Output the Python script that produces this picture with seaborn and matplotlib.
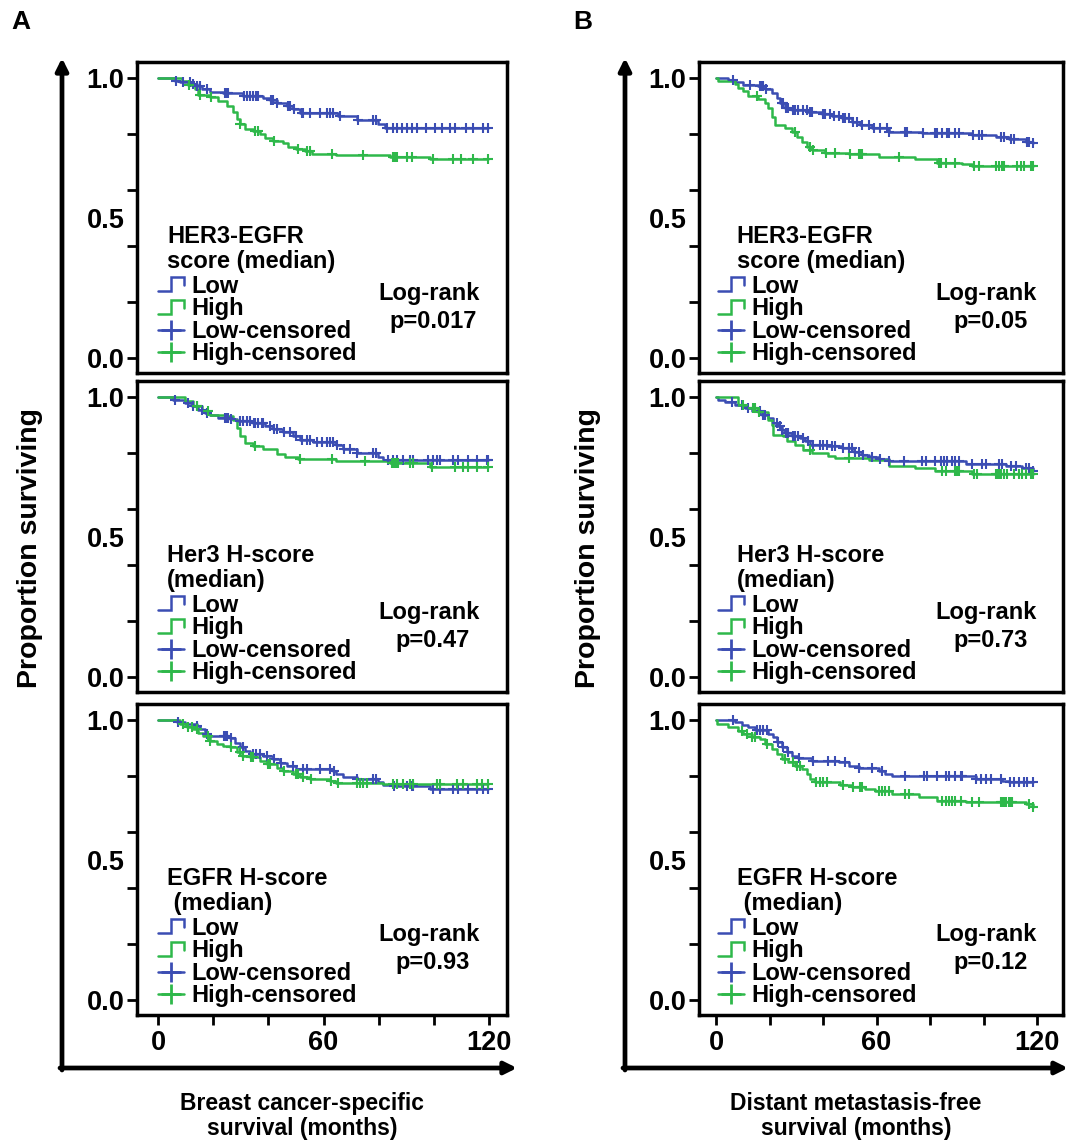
import numpy as np
import pandas as pd
import seaborn as sns
import matplotlib
matplotlib.use("Agg")
import matplotlib.pyplot as plt
from matplotlib.lines import Line2D
from matplotlib.patches import FancyArrowPatch
from matplotlib.legend_handler import HandlerBase

# ---------------- data (months, proportion surviving) ----------------
# Panel A, HER3-EGFR score
a1_low_t = [6.2, 8.0, 12.2, 14.0, 15.8, 18.8, 23.7, 30.9, 38.2, 40.6, 43.0, 46.6, 49.0, 51.4, 65.3, 72.0, 79.8, 82.2]
a1_low_s = [0.99, 0.985, 0.98, 0.97, 0.96, 0.95, 0.945, 0.935, 0.93, 0.92, 0.91, 0.90, 0.89, 0.875, 0.865, 0.85, 0.835, 0.82]
a1_low_c = [6.5, 9.2, 11.6, 12.8, 14.3, 15.2, 17.6, 24.3, 24.9, 25.5, 31.2, 32.1, 33.3, 34.5, 35.7, 36.4, 40.9, 41.2, 41.8,
            43.3, 47.2, 47.8, 49.3, 52.1, 52.7, 55.1, 58.7, 61.1, 62.3, 63.5, 65.9, 72.4, 78.0, 79.2, 82.9, 85.3, 86.5,
            88.3, 90.1, 91.9, 93.7, 97.3, 100.4, 102.8, 105.8, 107.6, 111.8, 114.3, 117.9, 119.7]
a1_high_t = [8.6, 11.0, 13.4, 14.6, 18.8, 21.9, 24.9, 27.3, 28.5, 29.7, 31.5, 34.5, 37.0, 38.8, 41.8, 45.4, 47.2, 50.2,
             53.3, 55.7, 64.7, 84.0, 98.6]
a1_high_s = [0.99, 0.975, 0.96, 0.94, 0.932, 0.918, 0.90, 0.88, 0.852, 0.834, 0.816, 0.81, 0.80, 0.785, 0.775, 0.767,
             0.755, 0.747, 0.739, 0.73, 0.724, 0.719, 0.709]
a1_high_c = [11.3, 15.2, 19.2, 29.9, 35.1, 36.4, 42.1, 50.8, 53.9, 55.1, 62.9, 74.4, 85.3, 85.9, 86.5, 90.1, 91.9, 99.8,
             107.0, 110.0, 114.3, 119.7]

# Panel A, Her3 H-score
a2_low_t = [5.6, 9.8, 12.2, 14.6, 17.0, 18.8, 21.9, 26.1, 28.5, 34.5, 38.8, 41.8, 45.4, 49.0, 51.4, 56.3, 64.7, 67.1,
            72.0, 79.8, 81.6]
a2_low_s = [0.99, 0.979, 0.967, 0.955, 0.943, 0.934, 0.925, 0.922, 0.913, 0.907, 0.896, 0.886, 0.874, 0.862, 0.848,
            0.84, 0.83, 0.813, 0.801, 0.786, 0.775]
a2_low_c = [6.2, 11.0, 12.8, 14.0, 15.8, 17.6, 24.3, 24.9, 25.5, 26.4, 29.7, 30.9, 32.1, 33.3, 34.8, 35.1, 36.4, 37.6,
            38.2, 40.6, 42.1, 43.0, 45.7, 47.8, 50.2, 52.1, 53.9, 55.1, 57.5, 59.3, 61.1, 62.3, 63.5, 65.0, 67.4, 69.6,
            72.3, 78.0, 79.2, 83.5, 85.3, 86.5, 88.9, 91.3, 92.5, 97.9, 99.8, 101.0, 102.2, 107.0, 108.8, 112.4, 115.5,
            119.1, 119.7]
a2_high_t = [9.8, 12.8, 15.8, 18.8, 22.5, 24.9, 27.3, 28.5, 29.7, 31.5, 34.5, 38.2, 43.0, 46.0, 50.8, 64.7, 84.0, 98.6]
a2_high_s = [0.985, 0.967, 0.949, 0.937, 0.934, 0.931, 0.919, 0.89, 0.86, 0.836, 0.824, 0.813, 0.798, 0.786, 0.777,
             0.771, 0.763, 0.751]
a2_high_c = [14.0, 18.2, 35.1, 51.4, 62.9, 75.0, 84.7, 85.3, 85.9, 86.5, 87.1, 91.3, 92.5, 99.2, 107.6, 110.6, 112.4,
             115.5, 119.7]

# Panel A, EGFR H-score
a3_low_t = [6.8, 9.8, 14.0, 15.2, 17.0, 18.8, 23.7, 26.1, 27.9, 29.7, 31.5, 33.3, 38.2, 41.8, 44.2, 46.6, 50.2, 63.5,
            64.7, 67.1, 72.0, 79.8, 81.6, 85.3, 98.6]
a3_low_s = [0.993, 0.985, 0.979, 0.967, 0.949, 0.943, 0.941, 0.937, 0.919, 0.902, 0.89, 0.878, 0.872, 0.86, 0.848,
            0.834, 0.824, 0.818, 0.807, 0.795, 0.789, 0.777, 0.768, 0.763, 0.753]
a3_low_c = [7.1, 14.3, 17.6, 24.0, 24.3, 24.9, 26.4, 30.9, 34.5, 35.7, 37.0, 39.4, 42.1, 44.5, 49.0, 52.7, 53.9, 58.7,
            62.3, 63.8, 72.3, 78.0, 79.2, 85.6, 90.1, 91.9, 92.5, 99.8, 102.2, 107.0, 108.8, 112.4, 115.5, 117.9, 119.7]
a3_high_t = [8.0, 10.4, 12.8, 14.6, 16.4, 18.8, 21.3, 23.7, 26.1, 28.5, 30.3, 33.3, 37.0, 39.4, 43.0, 45.4, 49.0, 51.4,
             55.1, 62.3, 64.7, 81.6]
a3_high_s = [0.985, 0.976, 0.967, 0.955, 0.943, 0.925, 0.913, 0.907, 0.902, 0.884, 0.872, 0.866, 0.854, 0.842, 0.83,
             0.818, 0.807, 0.797, 0.789, 0.783, 0.775, 0.771]
a3_high_c = [9.2, 11.0, 12.2, 14.2, 18.2, 19.0, 26.4, 29.7, 30.9, 33.6, 34.5, 39.7, 40.6, 45.7, 50.2, 50.8, 52.7, 55.4,
             62.6, 65.3, 72.0, 73.2, 74.4, 75.6, 85.3, 86.5, 88.9, 91.3, 92.5, 101.0, 102.2, 108.2, 110.6, 115.5, 117.3,
             119.7]

# Panel B, HER3-EGFR score
b1_low_t = [4.5, 7.0, 10.1, 15.8, 18.3, 20.8, 22.6, 23.9, 25.8, 28.3, 34.5, 39.5, 43.3, 47.0, 50.8, 53.9, 58.3, 64.5,
            77.0, 95.8, 104.5, 109.5, 115.8, 118.3]
b1_low_s = [0.992, 0.984, 0.976, 0.97, 0.96, 0.946, 0.928, 0.91, 0.892, 0.886, 0.88, 0.872, 0.865, 0.856, 0.844, 0.832,
            0.82, 0.808, 0.805, 0.796, 0.788, 0.781, 0.772, 0.766]
b1_low_c = [6.4, 12.6, 16.4, 17.0, 17.6, 18.6, 24.5, 25.1, 26.1, 27.0, 28.6, 29.5, 30.8, 32.6, 33.9, 35.1, 35.8, 39.8,
            40.8, 42.6, 43.9, 45.8, 47.3, 48.3, 49.5, 51.1, 52.6, 54.5, 57.0, 58.9, 61.4, 63.9, 64.8, 70.8, 71.4, 77.3,
            82.0, 82.6, 84.5, 86.4, 87.0, 89.5, 90.8, 96.1, 98.3, 99.5, 106.4, 107.6, 110.1, 111.4, 116.4, 117.0, 118.6]
b1_high_t = [0.75, 7.0, 8.3, 10.1, 12.0, 15.8, 18.3, 19.5, 20.8, 22.0, 25.8, 28.3, 30.1, 32.0, 33.9, 35.8, 40.8, 49.5,
             60.8, 74.5, 82.6, 92.0, 95.8]
b1_high_s = [0.988, 0.98, 0.964, 0.952, 0.934, 0.925, 0.91, 0.892, 0.862, 0.832, 0.82, 0.808, 0.79, 0.772, 0.754,
             0.743, 0.733, 0.728, 0.719, 0.709, 0.697, 0.692, 0.685]
b1_high_c = [15.1, 29.5, 35.1, 36.4, 41.1, 44.5, 50.1, 53.3, 53.9, 54.5, 68.3, 83.3, 83.9, 85.8, 89.5, 96.4, 98.3,
             104.5, 105.8, 107.0, 107.6, 112.6, 113.9, 115.1, 117.6, 118.3]

# Panel B, Her3 H-score
b2_low_t = [0.75, 3.3, 7.0, 10.8, 13.3, 17.0, 19.5, 21.4, 23.3, 24.5, 25.8, 28.3, 31.4, 33.3, 35.1, 42.0, 47.0, 51.4,
            54.5, 57.0, 60.8, 64.5, 93.3, 108.3, 114.5, 118.3]
b2_low_s = [0.99, 0.981, 0.973, 0.961, 0.949, 0.937, 0.925, 0.907, 0.895, 0.883, 0.871, 0.862, 0.853, 0.841, 0.829,
            0.826, 0.817, 0.805, 0.794, 0.785, 0.778, 0.77, 0.761, 0.754, 0.746, 0.737]
b2_low_c = [5.8, 9.5, 12.0, 16.4, 17.6, 18.3, 22.6, 23.9, 24.8, 26.1, 27.0, 28.6, 29.5, 30.8, 32.6, 34.5, 36.4, 38.9,
            40.1, 41.4, 43.3, 44.5, 47.6, 49.5, 50.8, 52.0, 53.3, 55.1, 58.3, 61.4, 64.8, 70.1, 77.0, 78.3, 82.0, 83.9,
            85.1, 86.4, 88.3, 89.5, 90.8, 95.8, 99.5, 100.8, 105.8, 107.0, 110.1, 112.0, 115.8, 117.0, 118.6]
b2_high_t = [8.3, 11.4, 15.8, 19.5, 20.8, 21.4, 25.1, 26.4, 29.5, 32.6, 35.8, 42.0, 44.5, 57.0, 64.5, 74.5, 82.0, 95.8]
b2_high_s = [0.973, 0.961, 0.945, 0.919, 0.901, 0.865, 0.859, 0.841, 0.829, 0.811, 0.80, 0.79, 0.782, 0.776, 0.754,
             0.746, 0.734, 0.726]
b2_high_c = [10.1, 13.9, 14.5, 16.1, 35.1, 49.5, 84.5, 85.8, 89.5, 90.1, 90.8, 96.4, 97.6, 104.5, 105.1, 105.8, 106.4,
             107.6, 108.9, 111.4, 113.3, 114.5, 115.8, 117.6, 118.3]

# Panel B, EGFR H-score
b3_low_t = [7.0, 9.5, 12.0, 14.5, 19.5, 21.4, 22.6, 24.5, 26.4, 28.3, 30.8, 35.8, 45.8, 49.5, 53.3, 60.8, 63.3, 65.8,
            97.0, 107.0, 109.5]
b3_low_s = [0.992, 0.983, 0.974, 0.964, 0.95, 0.938, 0.92, 0.902, 0.885, 0.873, 0.864, 0.855, 0.849, 0.837, 0.829,
            0.819, 0.807, 0.799, 0.789, 0.783, 0.777]
b3_low_c = [6.4, 15.1, 16.4, 17.6, 18.9, 23.3, 25.1, 26.7, 31.1, 36.4, 42.0, 44.5, 48.3, 53.6, 58.3, 62.0, 70.8, 77.6,
            78.9, 82.6, 85.8, 87.0, 89.5, 91.4, 92.0, 97.3, 98.9, 100.8, 102.6, 106.4, 109.8, 111.4, 113.3, 115.1, 116.4,
            118.3]
b3_high_t = [0.5, 4.5, 8.3, 10.1, 13.3, 16.4, 18.3, 20.8, 22.6, 24.5, 27.0, 29.5, 32.0, 33.9, 35.1, 37.0, 46.4, 50.8,
             55.8, 59.5, 65.8, 75.8, 82.6, 93.3, 115.8, 118.3]
b3_high_s = [0.986, 0.974, 0.962, 0.95, 0.94, 0.932, 0.914, 0.896, 0.879, 0.861, 0.849, 0.837, 0.825, 0.807, 0.789,
             0.777, 0.769, 0.762, 0.754, 0.745, 0.736, 0.726, 0.712, 0.706, 0.70, 0.688]
b3_high_c = [9.5, 11.4, 13.6, 14.5, 18.9, 25.8, 28.9, 30.1, 31.4, 37.3, 38.9, 40.1, 41.4, 47.6, 51.1, 53.9, 54.5, 60.8,
             62.0, 63.3, 64.5, 70.8, 72.0, 84.5, 85.8, 87.0, 88.3, 89.5, 91.4, 95.8, 98.3, 106.4, 107.0, 107.6, 108.3,
             109.5, 110.1, 110.8, 117.0, 118.6]

titles = ["HER3-EGFR\nscore (median)", "Her3 H-score\n(median)", "EGFR H-score\n (median)"]
pvals_a = ["p=0.017", "p=0.47", "p=0.93"]
pvals_b = ["p=0.05", "p=0.73", "p=0.12"]
legend_labels = ["Low", "High", "Low-censored", "High-censored"]
x_ticks_major = [0, 60, 120]
x_ticks_minor = [20, 40, 80, 100]
y_ticks_major = [0.0, 0.2, 0.4, 0.6, 0.8, 1.0]
x_titles = ["Breast cancer-specific\nsurvival (months)", "Distant metastasis-free\nsurvival (months)"]

panels = [
    (0, 0, (a1_low_t, a1_low_s, a1_low_c), (a1_high_t, a1_high_s, a1_high_c), titles[0], pvals_a[0]),
    (0, 1, (a2_low_t, a2_low_s, a2_low_c), (a2_high_t, a2_high_s, a2_high_c), titles[1], pvals_a[1]),
    (0, 2, (a3_low_t, a3_low_s, a3_low_c), (a3_high_t, a3_high_s, a3_high_c), titles[2], pvals_a[2]),
    (1, 0, (b1_low_t, b1_low_s, b1_low_c), (b1_high_t, b1_high_s, b1_high_c), titles[0], pvals_b[0]),
    (1, 1, (b2_low_t, b2_low_s, b2_low_c), (b2_high_t, b2_high_s, b2_high_c), titles[1], pvals_b[1]),
    (1, 2, (b3_low_t, b3_low_s, b3_low_c), (b3_high_t, b3_high_s, b3_high_c), titles[2], pvals_b[2]),
]

# ---------------- style ----------------
sns.set_theme(style="ticks")
plt.rcParams["font.family"] = ["Liberation Sans", "DejaVu Sans"]
plt.rcParams["font.weight"] = "bold"
for key in ("text.color", "axes.labelcolor", "xtick.color", "ytick.color", "xtick.labelcolor", "ytick.labelcolor"):
    plt.rcParams[key] = "black"

BLUE = "#3b4db3"
GREEN = "#2eb84a"
TXT = 17
TICK = 19.5
W, H = 1072, 1145

fig = plt.figure(figsize=(W / 100, H / 100), dpi=100)

col_geo = [dict(left=137, right=507, xlim=(-7.6, 126.5), title_x=0.081, lr_x=0.79, leg_x=0.057),
           dict(left=699, right=1063, xlim=(-6.4, 129.7), title_x=0.104, lr_x=0.79, leg_x=0.052)]
row_geo = [(62, 373), (381, 692), (704, 1015)]


class StepHandler(HandlerBase):
    def create_artists(self, legend, orig_handle, xdescent, ydescent, width, height, fontsize, trans):
        fx = [0.0, 0.5, 0.5, 1.0, 1.0]
        fy = [0.1, 0.1, 0.95, 0.95, 0.45]
        xs = [-xdescent + f * width for f in fx]
        ys = [-ydescent + f * height for f in fy]
        ln = Line2D(xs, ys, color=orig_handle.get_color(), lw=orig_handle.get_linewidth(),
                    solid_joinstyle="miter", transform=trans)
        return [ln]


def km_frame(t, s, c):
    tt = [0.0] + list(t)
    ss = [1.0] + list(s)
    end = max(tt[-1], max(c))
    xs = tt + [end]
    ys = ss + [ss[-1]]
    idx = np.searchsorted(np.array(tt), np.array(c), side="right") - 1
    cy = np.array(ss)[idx]
    return pd.DataFrame({"t": xs, "s": ys}), pd.DataFrame({"t": c, "s": cy})


for col, row, low, high, title, pval in panels:
    g = col_geo[col]
    top, bot = row_geo[row]
    ax = fig.add_axes([g["left"] / W, 1 - bot / H, (g["right"] - g["left"]) / W, (bot - top) / H])
    for (t, s, c), colr in ((low, BLUE), (high, GREEN)):
        line_df, cens_df = km_frame(t, s, c)
        sns.lineplot(data=line_df, x="t", y="s", ax=ax, color=colr, lw=1.8, drawstyle="steps-post",
                     estimator=None, sort=False, legend=False)
        sns.scatterplot(data=cens_df, x="t", y="s", ax=ax, color=colr, marker="+", s=50, linewidth=1.5,
                        legend=False, zorder=3)
    ax.set_xlim(*g["xlim"])
    ax.set_ylim(-0.054, 1.057)
    ax.set_xlabel("")
    ax.set_ylabel("")
    for sp in ax.spines.values():
        sp.set_visible(True)
        sp.set_linewidth(2.5)
        sp.set_color("black")
    # y axis
    ax.set_yticks(y_ticks_major, labels=["0.0", "", "", "", "", "1.0"])
    ax.set_yticks([0.5], labels=["0.5"], minor=True)
    ax.tick_params(axis="y", which="major", left=True, length=7, width=2, color="black",
                   labelsize=TICK, labelcolor="black", pad=2)
    ax.tick_params(axis="y", which="minor", left=True, length=0, labelsize=TICK, labelcolor="black", pad=9)
    for lab in ax.get_yticklabels(which="both"):
        lab.set_fontweight("bold")
    # x axis
    if row == 2:
        ax.set_xticks(x_ticks_major, labels=[str(v) for v in x_ticks_major])
        ax.set_xticks(x_ticks_minor, minor=True)
        ax.tick_params(axis="x", which="both", bottom=True, length=7, width=2, color="black",
                       labelsize=TICK, labelcolor="black", pad=4)
        for lab in ax.get_xticklabels():
            lab.set_fontweight("bold")
    else:
        ax.set_xticks([])
        ax.tick_params(axis="x", which="both", bottom=False)

    # legend text
    ax.text(g["title_x"], 1 - 187 / 311, title, transform=ax.transAxes, ha="left", va="center",
            fontsize=TXT, fontweight="bold", linespacing=1.15, color="black")
    ax.text(g["lr_x"], 1 - 231 / 311, "Log-rank", transform=ax.transAxes, ha="center", va="center",
            fontsize=TXT, fontweight="bold", color="black")
    ax.text(g["lr_x"] + 0.01, 1 - 259 / 311, pval, transform=ax.transAxes, ha="center", va="center",
            fontsize=TXT, fontweight="bold", color="black")
    h_low = Line2D([], [], color=BLUE, lw=1.8)
    h_high = Line2D([], [], color=GREEN, lw=1.8)
    h_lc = Line2D([], [], color=BLUE, lw=1.8, marker="+", ms=14, mew=2.0)
    h_hc = Line2D([], [], color=GREEN, lw=1.8, marker="+", ms=14, mew=2.0)
    leg = ax.legend([h_low, h_high, h_lc, h_hc], legend_labels,
                    handler_map={h_low: StepHandler(), h_high: StepHandler()},
                    loc="center left", bbox_to_anchor=(g["leg_x"], 1 - 258 / 311), frameon=False, borderpad=0,
                    borderaxespad=0, handlelength=1.1, handletextpad=0.3, labelspacing=-0.02, numpoints=1,
                    prop={"size": TXT, "weight": "bold"})
    for txt in leg.get_texts():
        txt.set_color("black")

# ---------------- big L-shaped arrows and outer labels ----------------
def fpx(x, y):
    return (x / W, 1 - y / H)

for vx, hx_end in ((62, 517), (625, 1068)):
    cy = 1068
    fig.add_artist(FancyArrowPatch(fpx(vx, cy + 2), fpx(vx, 58), transform=fig.transFigure, arrowstyle="-|>",
                                   mutation_scale=18, lw=3.4, color="black", shrinkA=0, shrinkB=0))
    fig.add_artist(FancyArrowPatch(fpx(vx - 2, cy), fpx(hx_end, cy), transform=fig.transFigure, arrowstyle="-|>",
                                   mutation_scale=18, lw=3.4, color="black", shrinkA=0, shrinkB=0))

fig.text(30 / W, 1 - 548 / H, "Proportion surviving", rotation=90, ha="center", va="center",
         fontsize=20.5, fontweight="bold", color="black")
fig.text(588 / W, 1 - 548 / H, "Proportion surviving", rotation=90, ha="center", va="center",
         fontsize=20.5, fontweight="bold", color="black")
fig.text(302 / W, 1 - 1116 / H, x_titles[0], ha="center", va="center", fontsize=16.5, fontweight="bold",
         linespacing=1.15, color="black")
fig.text(856 / W, 1 - 1116 / H, x_titles[1], ha="center", va="center", fontsize=16.5, fontweight="bold",
         linespacing=1.15, color="black")
fig.text(21 / W, 1 - 22 / H, "A", ha="center", va="center", fontsize=19, fontweight="heavy", color="black")
fig.text(583 / W, 1 - 22 / H, "B", ha="center", va="center", fontsize=19, fontweight="heavy", color="black")

fig.savefig("out.png", dpi=100)
